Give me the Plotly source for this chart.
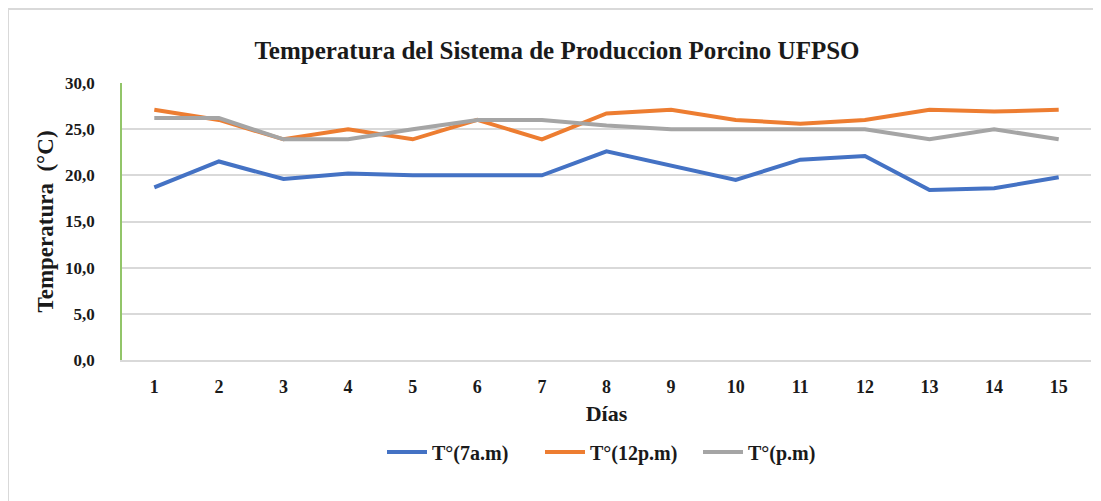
import plotly.graph_objects as go

dias = list(range(1, 16))
t_7am = [18.7, 21.5, 19.6, 20.2, 20.0, 20.0, 20.0, 22.6, 21.0, 19.5, 21.7, 22.1, 18.4, 18.6, 19.8]
t_12pm = [27.1, 26.0, 23.9, 25.0, 23.9, 26.0, 23.9, 26.7, 27.1, 26.0, 25.6, 26.0, 27.1, 26.9, 27.1]
t_pm = [26.2, 26.2, 23.9, 23.9, 25.0, 26.0, 26.0, 25.4, 25.0, 25.0, 25.0, 25.0, 23.9, 25.0, 23.9]
series_names = ["T°(7a.m)", "T°(12p.m)", "T°(p.m)"]
colors = ["#4472C4", "#ED7D31", "#A5A5A5"]
y_ticks = [0, 5, 10, 15, 20, 25, 30]

font = "Liberation Serif"
txt = "#1a1a1a"
OFF = 8  # page body margin offset
W, H = 1101 - OFF, 501 - OFF
L, T = 122 - OFF, 83 - OFF
R = 1101 - 1091
B = 501 - 360
pw, ph = W - L - R, H - T - B


def px_x(sx):
    return (sx - OFF - L) / pw


def px_y(sy):
    return (H - B - (sy - OFF)) / ph


fig = go.Figure()
for name, vals, c in zip(series_names, [t_7am, t_12pm, t_pm], colors):
    fig.add_trace(go.Scatter(x=dias, y=vals, mode="lines", name=name,
                             line=dict(color=c, width=4)))

fig.update_layout(
    width=W, height=H,
    margin=dict(l=L, r=R, t=T, b=B, autoexpand=False),
    paper_bgcolor="white", plot_bgcolor="white",
    separators=",.",
    font=dict(family=font, color=txt),
    title=dict(text="<b>Temperatura del Sistema de Produccion Porcino UFPSO</b>",
               x=(557 - OFF) / W, xanchor="center", y=1 - (50 - OFF) / H, yanchor="middle",
               font=dict(family=font, size=25, color=txt)),
    xaxis=dict(range=[0.5, 15.5], tickvals=dias, showgrid=False, automargin=False,
               showline=True, linecolor="#D9D9D9", linewidth=1.5,
               ticks="outside", ticklen=10, tickcolor="rgba(0,0,0,0)",
               tickfont=dict(family=font, size=18, color=txt, weight="bold"),
               title=dict(text="<b>Días</b>", standoff=9,
                          font=dict(family=font, size=22, color=txt)),
               zeroline=False, fixedrange=True),
    yaxis=dict(range=[0, 30], tickvals=y_ticks, tickformat=".1f", automargin=False,
               showgrid=True, gridcolor="#D9D9D9", gridwidth=1.5,
               showline=True, linecolor="#92C569", linewidth=1.5,
               ticks="outside", ticklen=22, tickcolor="rgba(0,0,0,0)",
               tickfont=dict(family=font, size=17, color=txt, weight="bold"),
               title=dict(text="<b>Temperatura\u00a0\u00a0(°C)</b>", standoff=5,
                          font=dict(family=font, size=23, color=txt)),
               zeroline=False, fixedrange=True),
    legend=dict(orientation="h", x=px_x(382), xanchor="left", y=px_y(452), yanchor="middle",
                font=dict(family=font, size=20, color=txt, weight="bold"),
                itemwidth=40, tracegroupgap=0, entrywidthmode="pixels", entrywidth=103),
    showlegend=True,
)

# outer border (left and top edges of the screenshot frame)
fig.add_shape(type="path", xref="paper", yref="paper",
              path=f"M {px_x(8)} {px_y(510)} L {px_x(8)} {px_y(9)} L {px_x(1110)} {px_y(9)}",
              line=dict(color="#D9D9D9", width=2), layer="above")

fig.write_html("out.html")
